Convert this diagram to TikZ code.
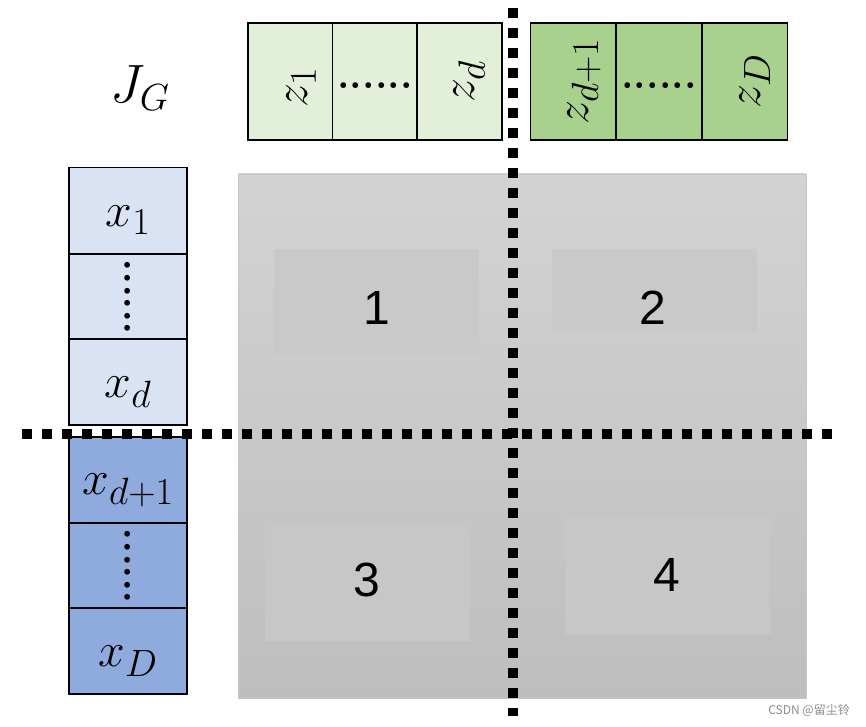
\RequirePackage{fix-cm}
\documentclass[tikz,border=0pt]{standalone}
\usepackage{fontspec}
\newfontfamily\numfont{Liberation Sans}
\newfontfamily\cjk{Noto Sans CJK SC}
\DeclareMathSizes{48}{48}{38}{30}
\definecolor{zlight}{HTML}{E2F0D9}
\definecolor{zdark}{HTML}{A9D18E}
\definecolor{xlight}{HTML}{DAE3F3}
\definecolor{xdark}{HTML}{8FAADC}
\definecolor{gtop}{HTML}{D3D3D3}
\definecolor{gbot}{HTML}{BEBEBE}
\tikzset{
  cell/.style={draw=black, line width=1.3pt, inner sep=0pt},
  zcell/.style={cell, minimum width=85pt, minimum height=117pt},
  xcell/.style={cell, minimum width=118pt, minimum height=86pt},
  lab/.style={inner sep=0pt, font=\fontsize{48}{48}\selectfont},
  dotrow/.style={inner sep=0pt, font=\bfseries\fontsize{40}{40}\selectfont},
  blk/.style={inner sep=0pt, minimum width=205pt},
  num/.style={inner sep=0pt, font=\numfont\fontsize{48}{48}\selectfont},
  sep/.style={line width=10pt, dash pattern=on 10pt off 10pt}
}

\begin{document}
\begin{tikzpicture}[x=1pt, y=-1pt]
\useasboundingbox (0,0) rectangle (866,727);
% the Jacobian
\node[inner sep=0pt, font=\fontsize{54}{54}\selectfont] (jg) at (140,88) {$J_G$};
% z cells along the top
\foreach \n/\x/\c in {z1/290.5/zlight, zdots/375/zlight, zd/459.5/zlight, zdd/573/zdark, zdots2/659/zdark, zD/745/zdark} {
  \node[zcell, fill=\c] (\n) at (\x,81.5) {};
}
\node[lab, rotate=90] (lz1) at ([xshift=11pt,yshift=-6pt]z1.center) {$z_1$};
\node[lab, rotate=90] (lzd) at ([xshift=10pt]zd.center) {$z_d$};
\node[lab, rotate=90] (lzdd) at ([xshift=11pt]zdd.center) {$z_{d+1}$};
\node[lab, rotate=90] (lzD) at ([xshift=10pt]zD.center) {$z_D$};
\node[dotrow] (dz1) at ([yshift=-4pt]zdots.center) {......};
\node[dotrow] (dz2) at ([yshift=-4pt]zdots2.center) {......};
% x cells down the left
\foreach \n/\y/\c in {x1/210.5/xlight, xdots/297/xlight, xd/382/xlight, xdd/480/xdark, xdots2/566/xdark, xD/651/xdark} {
  \node[xcell, fill=\c] (\n) at (128,\y) {};
}
\node[lab] (lx1) at ([yshift=-10pt]x1.center) {$x_1$};
\node[lab] (lxd) at ([yshift=-10pt]xd.center) {$x_d$};
\node[lab] (lxdd) at ([yshift=-10pt]xdd.center) {$x_{d+1}$};
\node[lab] (lxD) at ([yshift=-10pt]xD.center) {$x_D$};
\node[dotrow, rotate=90] (dx1) at (xdots.center) {......};
\node[dotrow, rotate=90] (dx2) at (xdots2.center) {......};
% the four blocks
\shade[top color=gtop, bottom color=gbot, draw=gray!45] (238,174) rectangle (806,698);
\node[blk, minimum height=106pt, fill=black!21] (b1) at (376.5,302) {};
\node[blk, minimum height=84pt, fill=black!21] (b2) at (654.5,291) {};
\node[blk, minimum height=119pt, fill=black!22] (b3) at (367.5,581.5) {};
\node[blk, minimum height=119pt, fill=black!22] (b4) at (667.5,574.5) {};
\node[num] (n1) at (377,308) {1};
\node[num] (n2) at (653,308) {2};
\node[num] (n3) at (367,580) {3};
\node[num] (n4) at (667,575) {4};
% split lines
\coordinate (vt) at (513,8);
\coordinate (vb) at (513,716);
\coordinate (hl) at (22,434);
\coordinate (hr) at (832,434);
\draw[sep] (vt) -- (vb);
\draw[sep] (hl) -- (hr);
\node[anchor=east, inner sep=0pt, text=black!45, font=\cjk\fontsize{12}{12}\selectfont] (wm) at (850,710) {CSDN @留尘铃};
\end{tikzpicture}
\end{document}
